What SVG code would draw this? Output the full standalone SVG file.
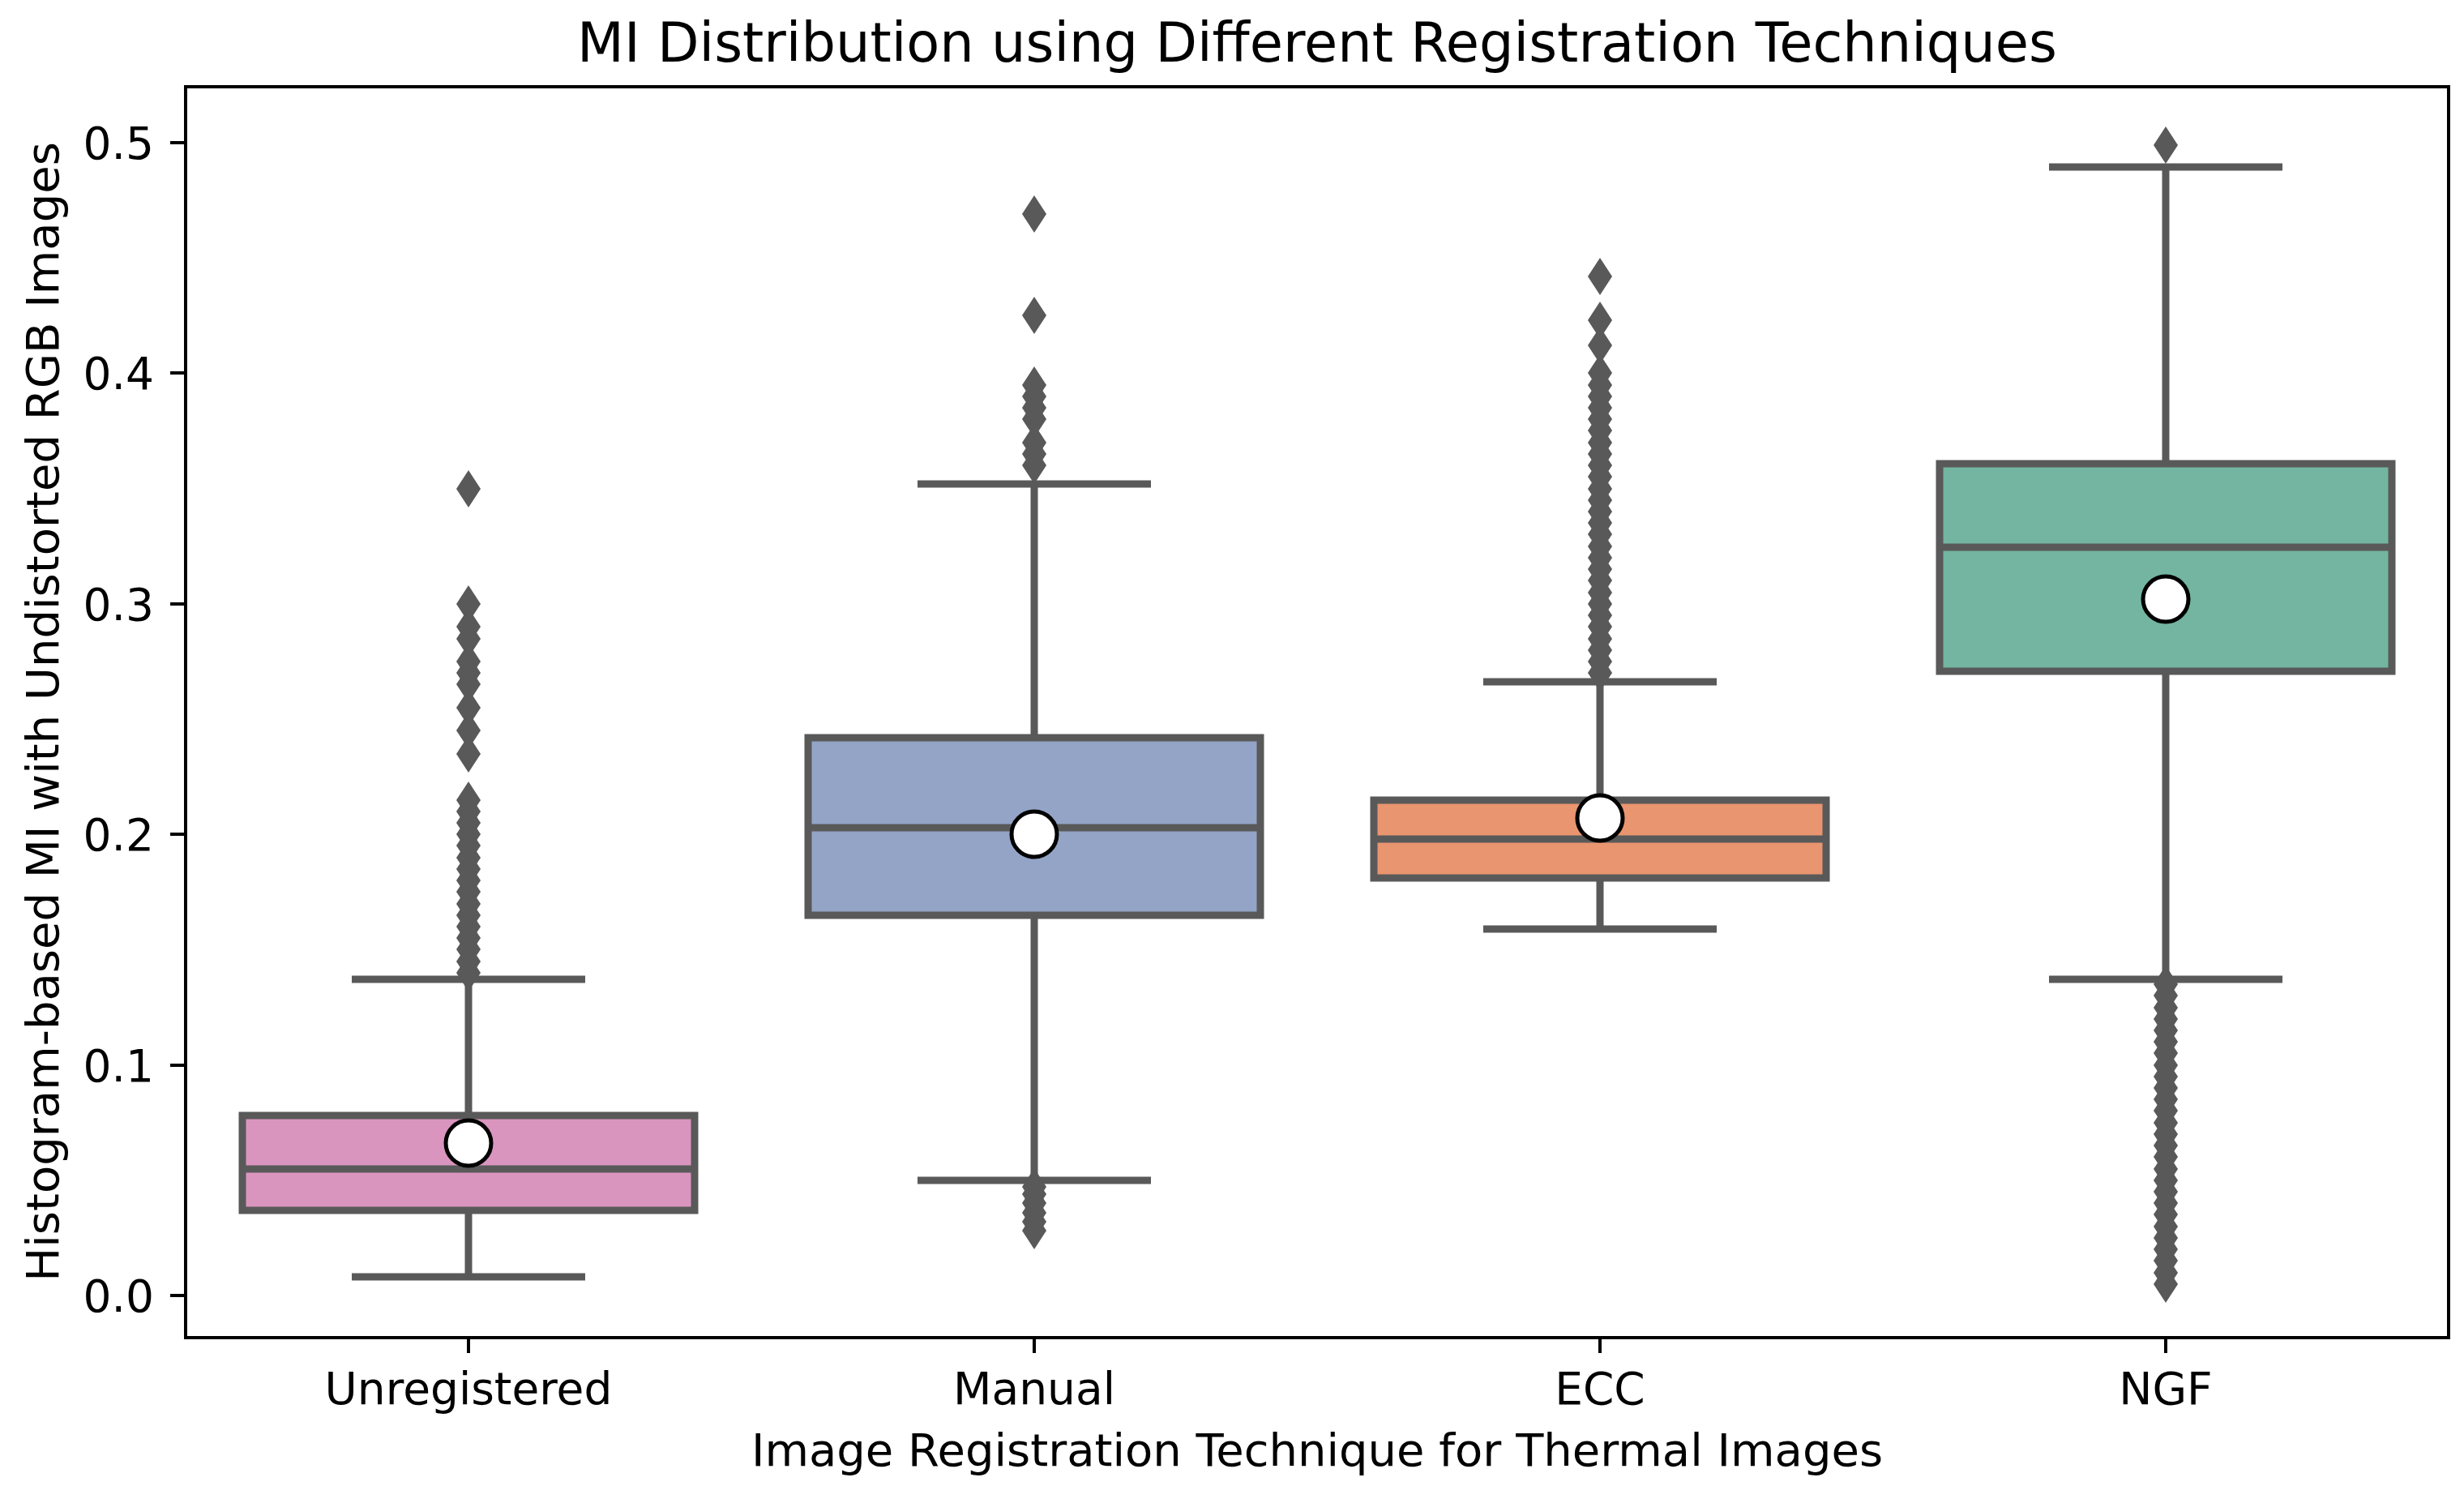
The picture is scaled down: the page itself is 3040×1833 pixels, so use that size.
<svg xmlns="http://www.w3.org/2000/svg" xmlns:xlink="http://www.w3.org/1999/xlink" width="3040" height="1833" viewBox="0 0 3040 1833">
<style>
text{font-family:"DejaVu Sans","Liberation Sans",sans-serif;fill:#000}
.t{font-size:55px}
.lab{font-size:56px}
.ttl{font-size:67px}
.bx{stroke:#595959;stroke-width:9}
.ln{stroke:#595959;stroke-width:9;fill:none}
.mean{fill:#fff;stroke:#000;stroke-width:5}
.tk{stroke:#000;stroke-width:4}
</style>
<defs>
<path id="d" d="M0,-23 L15,0 L0,23 L-15,0 Z" fill="#595959"/>
</defs>
<rect width="3040" height="1833" fill="#fff"/>
<text class="ttl" x="1625" y="76" text-anchor="middle">MI Distribution using Different Registration Techniques</text>
<g id="axes">
<g class="tk">
<line x1="210" y1="1598" x2="229" y2="1598"/><line x1="210" y1="1314" x2="229" y2="1314"/><line x1="210" y1="1029" x2="229" y2="1029"/><line x1="210" y1="745" x2="229" y2="745"/><line x1="210" y1="460" x2="229" y2="460"/><line x1="210" y1="176" x2="229" y2="176"/>
<line x1="578" y1="1650" x2="578" y2="1669"/><line x1="1276" y1="1650" x2="1276" y2="1669"/><line x1="1974" y1="1650" x2="1974" y2="1669"/><line x1="2672" y1="1650" x2="2672" y2="1669"/>
</g>
<g class="t" text-anchor="end">
<text x="190" y="1618">0.0</text><text x="190" y="1334">0.1</text><text x="190" y="1049">0.2</text><text x="190" y="765">0.3</text><text x="190" y="480">0.4</text><text x="190" y="196">0.5</text>
</g>
<g class="t" text-anchor="middle">
<text x="578" y="1732">Unregistered</text><text x="1276" y="1732">Manual</text><text x="1974" y="1732">ECC</text><text x="2672" y="1732">NGF</text>
</g>
<text class="lab" x="1625" y="1808" text-anchor="middle">Image Registration Technique for Thermal Images</text>
<text class="lab" transform="translate(72,878) rotate(-90)" text-anchor="middle">Histogram-based MI with Undistorted RGB Images</text>
</g>
<g id="unregistered">
<line class="ln" x1="578" y1="1376" x2="578" y2="1208"/><line class="ln" x1="578" y1="1493" x2="578" y2="1575"/>
<line class="ln" x1="434" y1="1208" x2="722" y2="1208"/><line class="ln" x1="434" y1="1575" x2="722" y2="1575"/>
<rect class="bx" x="299" y="1376" width="558" height="117" fill="#da95bf"/>
<line class="ln" x1="299" y1="1442" x2="857" y2="1442"/>
<g transform="translate(578,0)">
<use xlink:href="#d" y="1200"/><use xlink:href="#d" y="1186"/><use xlink:href="#d" y="1171"/><use xlink:href="#d" y="1157"/><use xlink:href="#d" y="1143"/><use xlink:href="#d" y="1129"/><use xlink:href="#d" y="1115"/><use xlink:href="#d" y="1100"/><use xlink:href="#d" y="1086"/><use xlink:href="#d" y="1072"/><use xlink:href="#d" y="1058"/><use xlink:href="#d" y="1043"/><use xlink:href="#d" y="1029"/><use xlink:href="#d" y="1015"/><use xlink:href="#d" y="1001"/><use xlink:href="#d" y="987"/><use xlink:href="#d" y="930"/><use xlink:href="#d" y="901"/><use xlink:href="#d" y="873"/><use xlink:href="#d" y="844"/><use xlink:href="#d" y="830"/><use xlink:href="#d" y="816"/><use xlink:href="#d" y="788"/><use xlink:href="#d" y="773"/><use xlink:href="#d" y="745"/><use xlink:href="#d" y="603"/>
</g>
<circle class="mean" cx="578" cy="1410" r="28"/>
</g>
<g id="manual">
<line class="ln" x1="1276" y1="910" x2="1276" y2="597"/><line class="ln" x1="1276" y1="1129" x2="1276" y2="1456"/>
<line class="ln" x1="1132" y1="597" x2="1420" y2="597"/><line class="ln" x1="1132" y1="1456" x2="1420" y2="1456"/>
<rect class="bx" x="997" y="910" width="558" height="219" fill="#93a4c6"/>
<line class="ln" x1="997" y1="1021" x2="1555" y2="1021"/>
<g transform="translate(1276,0)">
<use xlink:href="#d" y="574"/><use xlink:href="#d" y="560"/><use xlink:href="#d" y="546"/><use xlink:href="#d" y="517"/><use xlink:href="#d" y="503"/><use xlink:href="#d" y="489"/><use xlink:href="#d" y="475"/><use xlink:href="#d" y="389"/><use xlink:href="#d" y="264"/>
<use xlink:href="#d" y="1518"/><use xlink:href="#d" y="1507"/><use xlink:href="#d" y="1496"/><use xlink:href="#d" y="1484"/><use xlink:href="#d" y="1473"/><use xlink:href="#d" y="1464"/>
</g>
<circle class="mean" cx="1276" cy="1029" r="28"/>
</g>
<g id="ecc">
<line class="ln" x1="1974" y1="987" x2="1974" y2="841"/><line class="ln" x1="1974" y1="1083" x2="1974" y2="1146"/>
<line class="ln" x1="1830" y1="841" x2="2118" y2="841"/><line class="ln" x1="1830" y1="1146" x2="2118" y2="1146"/>
<rect class="bx" x="1695" y="987" width="558" height="96" fill="#e9956f"/>
<line class="ln" x1="1695" y1="1035" x2="2253" y2="1035"/>
<g transform="translate(1974,0)">
<use xlink:href="#d" y="830"/><use xlink:href="#d" y="816"/><use xlink:href="#d" y="802"/><use xlink:href="#d" y="788"/><use xlink:href="#d" y="773"/><use xlink:href="#d" y="759"/><use xlink:href="#d" y="745"/><use xlink:href="#d" y="731"/><use xlink:href="#d" y="716"/><use xlink:href="#d" y="702"/><use xlink:href="#d" y="688"/><use xlink:href="#d" y="674"/><use xlink:href="#d" y="659"/><use xlink:href="#d" y="645"/><use xlink:href="#d" y="631"/><use xlink:href="#d" y="617"/><use xlink:href="#d" y="603"/><use xlink:href="#d" y="588"/><use xlink:href="#d" y="574"/><use xlink:href="#d" y="560"/><use xlink:href="#d" y="546"/><use xlink:href="#d" y="531"/><use xlink:href="#d" y="517"/><use xlink:href="#d" y="503"/><use xlink:href="#d" y="489"/><use xlink:href="#d" y="475"/><use xlink:href="#d" y="460"/><use xlink:href="#d" y="426"/><use xlink:href="#d" y="395"/><use xlink:href="#d" y="341"/>
</g>
<circle class="mean" cx="1974" cy="1009" r="28"/>
</g>
<g id="ngf">
<line class="ln" x1="2672" y1="572" x2="2672" y2="206"/><line class="ln" x1="2672" y1="828" x2="2672" y2="1208"/>
<line class="ln" x1="2528" y1="206" x2="2816" y2="206"/><line class="ln" x1="2528" y1="1208" x2="2816" y2="1208"/>
<rect class="bx" x="2393" y="572" width="558" height="256" fill="#73b5a0"/>
<line class="ln" x1="2393" y1="675" x2="2951" y2="675"/>
<g transform="translate(2672,0)">
<use xlink:href="#d" y="179"/>
<use xlink:href="#d" y="1584"/><use xlink:href="#d" y="1570"/><use xlink:href="#d" y="1555"/><use xlink:href="#d" y="1541"/><use xlink:href="#d" y="1527"/><use xlink:href="#d" y="1513"/><use xlink:href="#d" y="1498"/><use xlink:href="#d" y="1484"/><use xlink:href="#d" y="1470"/><use xlink:href="#d" y="1456"/><use xlink:href="#d" y="1442"/><use xlink:href="#d" y="1427"/><use xlink:href="#d" y="1413"/><use xlink:href="#d" y="1399"/><use xlink:href="#d" y="1385"/><use xlink:href="#d" y="1370"/><use xlink:href="#d" y="1356"/><use xlink:href="#d" y="1342"/><use xlink:href="#d" y="1328"/><use xlink:href="#d" y="1314"/><use xlink:href="#d" y="1299"/><use xlink:href="#d" y="1285"/><use xlink:href="#d" y="1271"/><use xlink:href="#d" y="1257"/><use xlink:href="#d" y="1243"/><use xlink:href="#d" y="1228"/><use xlink:href="#d" y="1214"/>
</g>
<circle class="mean" cx="2672" cy="739" r="28"/>
</g>
<rect id="frame" x="229" y="107" width="2792" height="1543" fill="none" stroke="#000" stroke-width="4"/>
</svg>
